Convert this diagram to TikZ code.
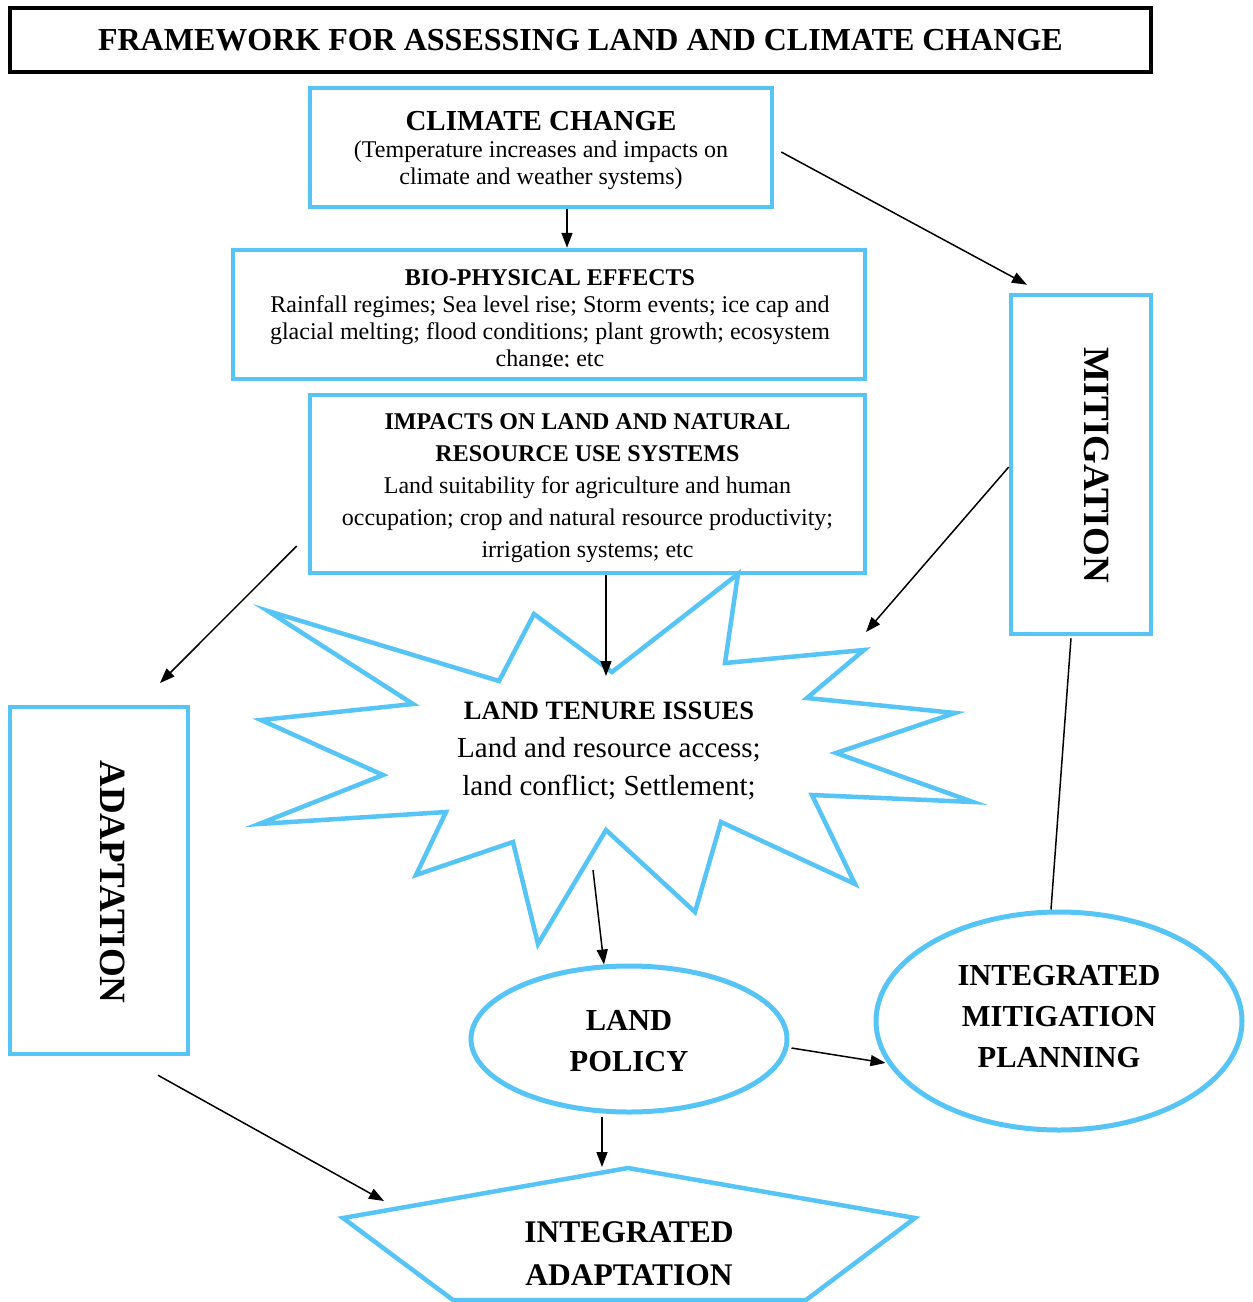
\documentclass[tikz,border=0pt]{standalone}
\usepackage{fontspec}
\setmainfont{Liberation Serif}
\usetikzlibrary{arrows.meta,shapes.geometric}
\definecolor{skyb}{RGB}{86,197,245}
\newcommand{\fsz}[2]{\fontsize{#1}{#2}\selectfont}
\begin{document}
\begin{tikzpicture}[x=1pt,y=-1pt,
  bluebox/.style={draw=skyb,line width=4.5pt,rectangle,inner sep=0pt},
  blueline/.style={draw=skyb,line width=4.5pt},
  arr/.style={-{Triangle[length=15pt,width=11pt]},line width=1.5pt},
  conn/.style={line width=1.5pt}]
\useasboundingbox[fill=white] (0,0) rectangle (1253,1302);

% title
\node[draw=black,line width=4pt,minimum width=1141pt,minimum height=64pt,inner sep=0pt,
      font=\fsz{32}{38}\bfseries] (title) at (580.5,40) {FRAMEWORK FOR ASSESSING LAND AND CLIMATE CHANGE};

% climate change
\node[bluebox,minimum width=462pt,minimum height=119pt] (cc) at (541,147.5) {};
\node[align=center,font=\fsz{24}{27},inner sep=0pt] (cctext) at (541,150)
  {{\fsz{29}{33}\bfseries CLIMATE CHANGE}\\(Temperature increases and impacts on\\climate and weather systems)};

% bio-physical
\node[bluebox,minimum width=632pt,minimum height=129pt] (bio) at (549,314.5) {};
\begin{scope}
\clip (233,250) rectangle (865,366);
\node[align=center,font=\fsz{24}{27},inner sep=0pt] (biotext) at (550,321)
  {{\bfseries BIO-PHYSICAL EFFECTS}\\Rainfall regimes; Sea level rise; Storm events; ice cap and\\glacial melting; flood conditions; plant growth; ecosystem\\change; etc};
\end{scope}

% impacts
\node[bluebox,minimum width=555pt,minimum height=178pt] (imp) at (587.5,484) {};
\node[align=center,font=\fsz{24}{32},inner sep=0pt] (imptext) at (587.5,488.5)
  {{\bfseries IMPACTS ON LAND AND NATURAL}\\{\bfseries RESOURCE USE SYSTEMS}\\Land suitability for agriculture and human\\occupation; crop and natural resource productivity;\\irrigation systems; etc};

% mitigation
\node[bluebox,minimum width=140pt,minimum height=339pt] (mit) at (1081,464.5) {};
\node[rotate=-90,font=\fsz{37}{40}\bfseries,inner sep=0pt] (mittext) at (1097,465) {MITIGATION};

% adaptation
\node[bluebox,minimum width=178pt,minimum height=347pt] (adapt) at (99,880.5) {};
\node[rotate=-90,font=\fsz{37}{40}\bfseries,inner sep=0pt] (adapttext) at (113,882) {ADAPTATION};

% starburst
\draw[blueline,miter limit=12] (738,574) -- (725,663) -- (864,650) -- (807,698) -- (955,713) -- (836,753)
  -- (973,802) -- (812,795) -- (855,884) -- (721,822) -- (695,912) -- (606,830) -- (538,944)
  -- (513,842) -- (416,875) -- (446,812) -- (259,824) -- (383,775) -- (261,720) -- (413,704)
  -- (268,611) -- (499,681) -- (534,614) -- (612,672) -- cycle;
\node[align=center,font=\fsz{29}{38},inner sep=0pt] (lti) at (609,751)
  {{\fsz{26.5}{30}\bfseries LAND TENURE ISSUES}\\Land and resource access;\\land conflict; Settlement;};
\coordinate (ltitop) at (606,676);
\coordinate (starne) at (866,632);
\coordinate (starbot) at (593,870);
\coordinate (adapttop) at (160,683);

% land policy
\node[ellipse,draw=skyb,line width=5pt,minimum width=316pt,minimum height=146pt,inner sep=0pt] (lp) at (629,1039) {};
\node[align=center,font=\fsz{30.5}{41}\bfseries,inner sep=0pt] (lptext) at (629,1041.5) {LAND\\POLICY};

% integrated mitigation planning
\node[ellipse,draw=skyb,line width=5pt,minimum width=366pt,minimum height=218pt,inner sep=0pt] (imp2) at (1059,1021) {};
\node[align=center,font=\fsz{30.5}{41}\bfseries,inner sep=0pt] (imp2text) at (1059,1017) {INTEGRATED\\MITIGATION\\PLANNING};

% integrated adaptation (pentagon)
\draw[blueline] (628,1168) -- (915,1218) -- (806,1300) -- (453,1300) -- (343,1218) -- cycle;
\node[align=center,font=\fsz{31.5}{43}\bfseries,inner sep=0pt] (ia) at (629,1253.5) {INTEGRATED\\ADAPTATION};
\coordinate (penttop) at (602,1167);
\coordinate (pentleft) at (384,1201);

% connectors
\draw[arr] ([shift={(26,0)}]cc.south) -- ([shift={(18,0)}]bio.north);
\draw[arr] ([shift={(18.5,0)}]imp.south) -- (ltitop);
\draw[arr] ([shift={(7,4.5)}]cc.east) -- ([shift={(-54,-8)}]mit.north);
\draw[arr] ([shift={(0,2.5)}]mit.west) -- (starne);
\draw[arr] ([shift={(-11,62)}]imp.west) -- (adapttop);
\draw[arr] ([shift={(59,19)}]adapt.south) -- (pentleft);
\draw[arr] (starbot) -- ([shift={(-25,1)}]lp.north);
\draw[arr] ([shift={(2,9)}]lp.east) -- ([shift={(12,42)}]imp2.west);
\draw[arr] ([shift={(-27,2)}]lp.south) -- (penttop);
\draw[conn] ([shift={(-10,2)}]mit.south) -- ([shift={(-8,0)}]imp2.north);
\end{tikzpicture}
\end{document}
